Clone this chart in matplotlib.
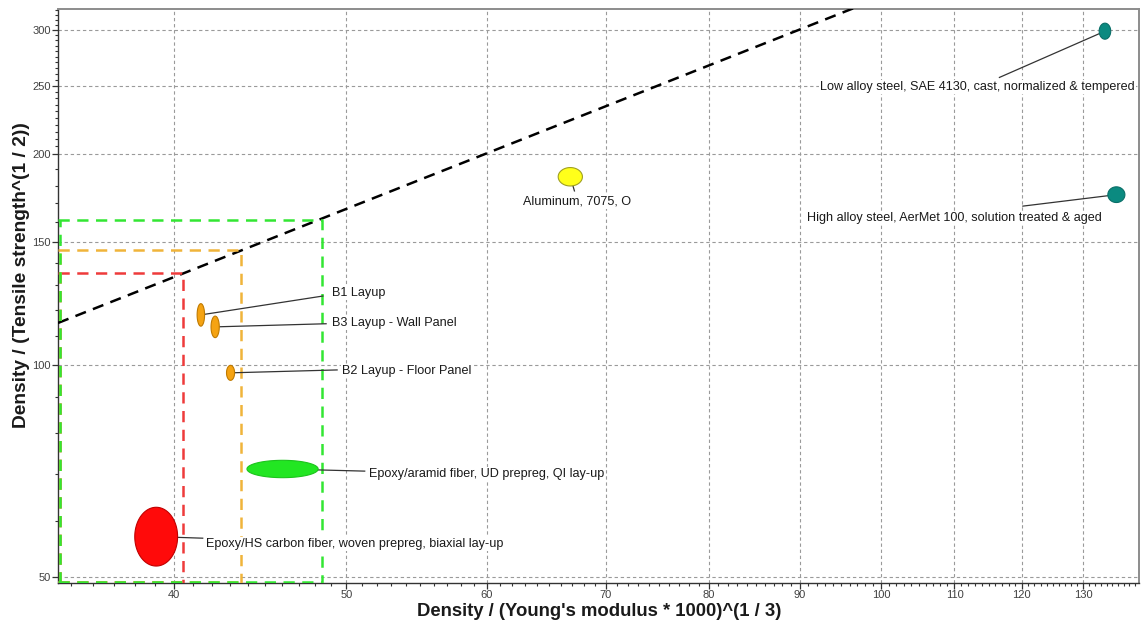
import numpy as np
import matplotlib
matplotlib.use("Agg")
import matplotlib.pyplot as plt
from matplotlib.ticker import FixedLocator, FixedFormatter, NullFormatter

plt.rcParams['font.family'] = ['Liberation Sans', 'DejaVu Sans']

# Material property ranges
# x: Density / (Young's modulus * 1000)^(1/3), y: Density / (Tensile strength^(1/2))
materials = [
    "Low alloy steel, SAE 4130, cast, normalized & tempered",
    "High alloy steel, AerMet 100, solution treated & aged",
    "Aluminum, 7075, O",
    "B1 Layup",
    "B3 Layup - Wall Panel",
    "B2 Layup - Floor Panel",
    "Epoxy/aramid fiber, UD prepreg, QI lay-up",
    "Epoxy/HS carbon fiber, woven prepreg, biaxial lay-up",
]
x_low = [132.7, 134.2, 65.8, 41.2, 41.95, 42.8, 43.95, 38.0]
x_high = [134.7, 137.2, 67.9, 41.6, 42.4, 43.25, 48.2, 40.17]
y_low = [291.2, 170.5, 180.0, 113.7, 109.5, 95.2, 69.2, 51.8]
y_high = [306.9, 179.5, 191.2, 122.4, 117.5, 100.0, 73.25, 62.8]

# Limit boxes (upper corners) and the performance guide line y = ratio * x
box_x = [40.43, 43.6, 48.46]
box_y = [135.5, 145.9, 160.9]
guide_ratio = 3.34

# Axis ticks
x_major = [40, 50, 60, 70, 80, 90, 100, 110, 120, 130]
y_major = [50, 100, 150, 200, 250, 300]

# ---- styling / layout ----
fill_colors = ["#0b8a80", "#0b8a80", "#ffff1a", "#f5a312", "#f5a312", "#f5a312",
               "#22e622", "#ff0a0a"]
edge_colors = ["#0a6f68", "#0a6f68", "#a0a020", "#c07a00", "#c07a00", "#c07a00",
               "#1cc41c", "#c00000"]
# label anchor (left, middle) and leader line end, in data coords
label_pos = [(92.4, 249.0), (90.8, 162.3), (62.85, 170.8), (49.06, 126.9),
             (49.06, 115.0), (49.7, 98.1), (51.5, 70.1), (41.7, 55.7)]
leader_end = [(116.6, 256.9), (120.2, 168.5), (67.2, 177.1), (48.5, 125.5),
              (48.7, 114.6), (49.4, 98.5), (51.2, 70.7), (41.5, 56.75)]
box_colors = ["#ee3b3b", "#f0b43a", "#33e633"]

xlim = (34.4, 139.8)
ylim = (49.0, 322.0)

fig = plt.figure(figsize=(11.42, 6.26), dpi=100)
ax = fig.add_axes([0.0508, 0.0687, 0.9469, 0.9177])
ax.set_xscale("log")
ax.set_yscale("log")
ax.set_xlim(*xlim)
ax.set_ylim(*ylim)

# grid
grid_style = dict(color="#9a9a9a", lw=0.8, ls=(0, (3, 2.5)), zorder=1)
for xv in x_major:
    ax.axvline(xv, **grid_style)
for yv in y_major:
    ax.axhline(yv, **grid_style)

# performance guide line
gx = np.array(xlim)
ax.plot(gx, guide_ratio * gx, color="black", lw=1.8, ls=(0, (4.5, 3)), zorder=3)

# limit boxes anchored at the lower-left corner of the plot
dash = (0, (4.5, 3))
for bx, by, c in zip(box_x, box_y, box_colors):
    ax.plot([xlim[0], bx, bx], [by, by, ylim[0]], color=c, lw=1.8, ls=dash, zorder=4)
    ax.plot([xlim[0] * 1.002, xlim[0] * 1.002], [ylim[0], by], color=c, lw=1.8,
            ls=dash, zorder=4)
    ax.plot([xlim[0], bx], [ylim[0] * 1.003, ylim[0] * 1.003], color=c, lw=1.8,
            ls=dash, zorder=4)

# material bubbles: ellipses in log space spanning each property range
t = np.linspace(0, 2 * np.pi, 200)
for i, name in enumerate(materials):
    lx0, lx1 = np.log10(x_low[i]), np.log10(x_high[i])
    ly0, ly1 = np.log10(y_low[i]), np.log10(y_high[i])
    cx, cy = (lx0 + lx1) / 2, (ly0 + ly1) / 2
    rx, ry = (lx1 - lx0) / 2, (ly1 - ly0) / 2
    ex = 10 ** (cx + rx * np.cos(t))
    ey = 10 ** (cy + ry * np.sin(t))
    ax.fill(ex, ey, facecolor=fill_colors[i], edgecolor=edge_colors[i], lw=0.8, zorder=6)
    # leader line and label
    lx, ly = leader_end[i]
    ax.plot([10 ** cx, lx], [10 ** cy, ly], color="#333333", lw=0.9, zorder=5)
    tx, ty = label_pos[i]
    ax.text(tx, ty, name, ha="left", va="center", fontsize=9.1, color="#1a1a1a",
            zorder=7, bbox=dict(facecolor="white", edgecolor="none", pad=0.6))

# ticks
ax.xaxis.set_major_locator(FixedLocator(x_major))
ax.xaxis.set_major_formatter(FixedFormatter([str(v) for v in x_major]))
ax.xaxis.set_minor_locator(FixedLocator(list(range(35, 140))))
ax.xaxis.set_minor_formatter(NullFormatter())
ax.yaxis.set_major_locator(FixedLocator(y_major))
ax.yaxis.set_major_formatter(FixedFormatter([str(v) for v in y_major]))
ax.yaxis.set_minor_locator(FixedLocator(list(range(50, 200, 10)) + list(range(200, 325, 5))))
ax.yaxis.set_minor_formatter(NullFormatter())
ax.tick_params(which="major", direction="out", length=4, width=0.9, color="#333333",
               labelsize=8.0, labelcolor="#404040", pad=1.0)
ax.tick_params(which="minor", direction="out", length=2.2, width=0.8, color="#333333")

for side in ("left", "bottom"):
    ax.spines[side].set_color("#333333")
    ax.spines[side].set_linewidth(1.0)
for side in ("top", "right"):
    ax.spines[side].set_color("#8c8c8c")
    ax.spines[side].set_linewidth(1.4)

ax.set_xlabel("Density / (Young's modulus * 1000)^(1 / 3)", fontsize=13.3,
              fontweight="bold", color="#1a1a1a")
ax.set_ylabel("Density / (Tensile strength^(1 / 2))", fontsize=13.8,
              fontweight="bold", color="#1a1a1a")
ax.xaxis.set_label_coords(0.5, -0.035)
ax.yaxis.set_label_coords(-0.0255, 0.536)

fig.savefig("out.png", dpi=100, facecolor="white")
